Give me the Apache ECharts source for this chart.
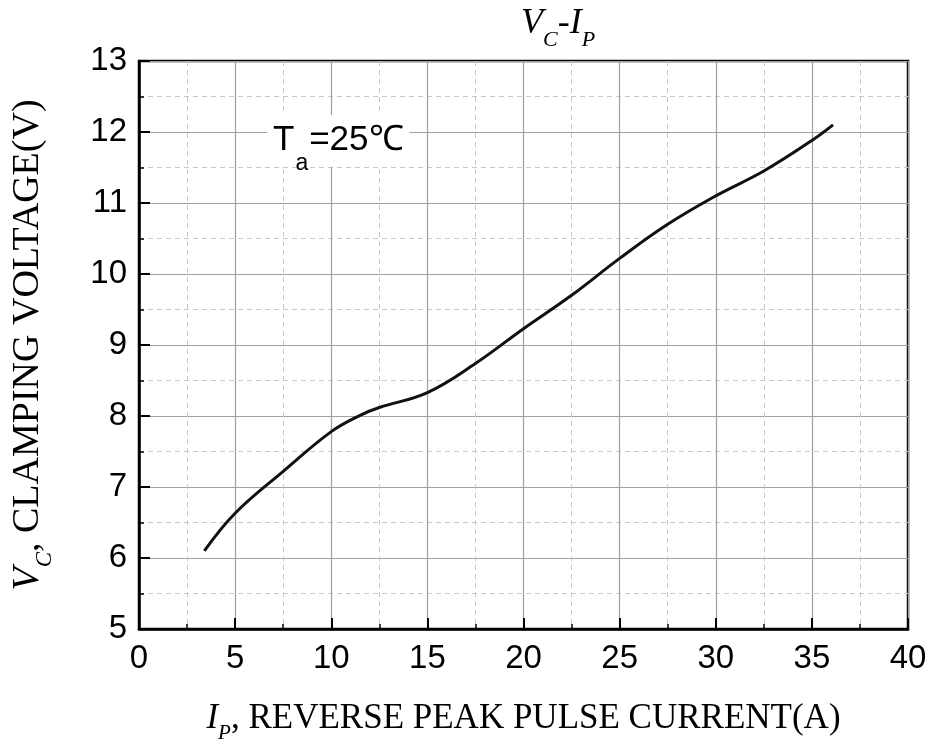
<!DOCTYPE html>
<html>
<head>
<meta charset="utf-8">
<script src="https://cdn.jsdelivr.net/npm/echarts@6/dist/echarts.min.js"></script>
<style>
  html, body { margin: 0; padding: 0; background: #fff; }
  #chart { width: 934px; height: 745px; }
</style>
</head>
<body>
<div id="chart"></div>
<script>
// I_P (A) vs V_C (V)
const currentA = [3.4, 5, 7.5, 10, 11.5, 12.5, 15, 17.5, 20, 22.5, 25, 27.5, 30, 32.5, 35, 36.1];
const clampV = [6.1, 6.63, 7.22, 7.78, 8.01, 8.12, 8.33, 8.74, 9.23, 9.7, 10.22, 10.7, 11.1, 11.45, 11.88, 12.1];

const xTicks = { min: 0, max: 40, interval: 5 };
const yTicks = { min: 5, max: 13, interval: 1 };

const SANS = 'Liberation Sans, Arial, sans-serif';
const SERIF = 'Liberation Serif, Times New Roman, serif';

const chart = echarts.init(document.getElementById('chart'));

const axisCommon = {
  axisLine: { show: true, onZero: false, lineStyle: { color: '#000', width: 2.5 } },
  axisTick: { show: true, inside: true, length: 11, lineStyle: { color: '#000', width: 2 } },
  minorTick: { show: true, splitNumber: 2, length: 5, lineStyle: { color: '#000', width: 1.5 } },
  splitLine: { show: true, lineStyle: { color: '#a0a0a0', width: 1.2 } },
  minorSplitLine: { show: true, lineStyle: { color: '#c8c8c8', width: 1, type: [5, 4] } },
  axisLabel: { color: '#000', fontFamily: SANS, fontSize: 33 }
};

// italic symbol + subscript pieces, sized per use
function richFor(size) {
  const sub = Math.round(size * 0.6);
  return {
    i: { fontFamily: SERIF, fontStyle: 'italic', fontWeight: 'normal', fontSize: size, color: '#000', verticalAlign: 'top', lineHeight: size + 2 },
    s: { fontFamily: SERIF, fontStyle: 'italic', fontWeight: 'normal', fontSize: sub, color: '#000', verticalAlign: 'top', lineHeight: sub + 1, padding: [Math.round(size * 0.64), 0, 0, 0] },
    n: { fontFamily: SERIF, fontWeight: 'normal', fontSize: size, color: '#000', verticalAlign: 'top', lineHeight: size + 2 }
  };
}

const option = {
  animation: false,
  backgroundColor: '#fff',
  title: {
    text: '{i|V}{s|C}{i|-I}{s|P}',
    left: 516,
    top: 1,
    textStyle: { fontWeight: 'normal', rich: richFor(36) }
  },
  grid: {
    left: 139, right: 26, top: 61, bottom: 116,
    show: true, borderColor: '#000', borderWidth: 2.5,
    containLabel: false, outerBoundsMode: 'none'
  },
  xAxis: Object.assign({}, axisCommon, {
    type: 'value',
    min: xTicks.min, max: xTicks.max, interval: xTicks.interval,
    name: '{i|I}{s|P}{n|, REVERSE PEAK PULSE CURRENT(A)}',
    nameLocation: 'middle',
    nameGap: 72,
    nameTextStyle: { rich: richFor(35) },
    axisLabel: Object.assign({}, axisCommon.axisLabel, { margin: 13 })
  }),
  yAxis: Object.assign({}, axisCommon, {
    type: 'value',
    min: yTicks.min, max: yTicks.max, interval: yTicks.interval,
    name: '{i|V}{s|C}{n|, CLAMPING VOLTAGE(V)}',
    nameLocation: 'middle',
    nameRotate: 90,
    nameGap: 90,
    nameTextStyle: { rich: richFor(38) },
    axisLabel: Object.assign({}, axisCommon.axisLabel, { margin: 12 })
  }),
  graphic: [{
    type: 'text',
    left: 267,
    top: 115,
    z: 100,
    style: {
      text: '{t|T}{a|a}{t|=25℃}',
      backgroundColor: '#fff',
      padding: [8, 6, 6, 6],
      rich: {
        t: { fontFamily: SANS, fontSize: 35, fill: '#000', verticalAlign: 'top', lineHeight: 38 },
        a: { fontFamily: SANS, fontSize: 23, fill: '#000', verticalAlign: 'top', lineHeight: 23, padding: [29, 1, 0, 1] }
      }
    }
  }],
  series: [{
    type: 'line',
    data: currentA.map((x, i) => [x, clampV[i]]),
    smooth: 0.4,
    showSymbol: false,
    lineStyle: { color: '#111', width: 3 },
    z: 10
  }]
};

chart.setOption(option);
</script>
</body>
</html>
